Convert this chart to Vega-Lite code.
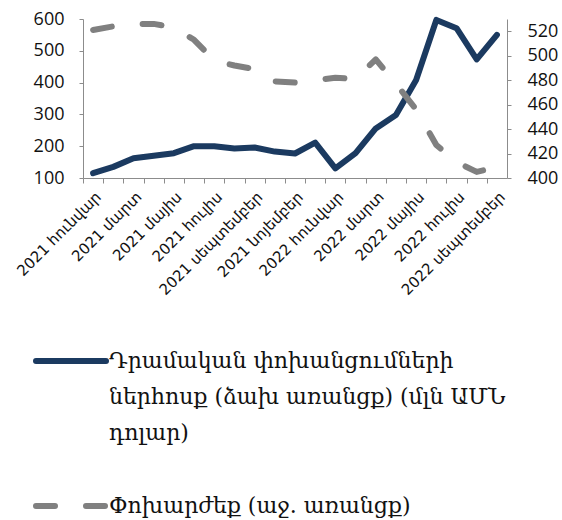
{
  "$schema": "https://vega.github.io/schema/vega-lite/v6.json",
  "width": 424,
  "height": 159,
  "autosize": {"type": "none"},
  "padding": {"left": 83, "top": 19, "right": 55, "bottom": 342},
  "background": "white",
  "config": {
    "view": {"stroke": null},
    "axis": {"labelFont": "Open Sans", "labelColor": "#111111", "domainColor": "#8c8c8c", "tickColor": "#8c8c8c", "grid": false, "title": null}
  },
  "data": {"values": [
      {"m": "2021 հունվար", "s": "A", "v": 115}, {"m": "2021 հունվար", "s": "B", "v": 521},
      {"m": "2021 փետրվար", "s": "A", "v": 135}, {"m": "2021 փետրվար", "s": "B", "v": 524},
      {"m": "2021 մարտ", "s": "A", "v": 162}, {"m": "2021 մարտ", "s": "B", "v": 526},
      {"m": "2021 ապրիլ", "s": "A", "v": 170}, {"m": "2021 ապրիլ", "s": "B", "v": 526},
      {"m": "2021 մայիս", "s": "A", "v": 178}, {"m": "2021 մայիս", "s": "B", "v": 523},
      {"m": "2021 հունիս", "s": "A", "v": 200}, {"m": "2021 հունիս", "s": "B", "v": 513},
      {"m": "2021  հուլիս", "s": "A", "v": 200}, {"m": "2021  հուլիս", "s": "B", "v": 496},
      {"m": "2021 օգոստոս", "s": "A", "v": 193}, {"m": "2021 օգոստոս", "s": "B", "v": 492},
      {"m": "2021  սեպտեմբեր", "s": "A", "v": 196}, {"m": "2021  սեպտեմբեր", "s": "B", "v": 489},
      {"m": "2021 հոկտեմբեր", "s": "A", "v": 183}, {"m": "2021 հոկտեմբեր", "s": "B", "v": 479},
      {"m": "2021  նոյեմբեր", "s": "A", "v": 177}, {"m": "2021  նոյեմբեր", "s": "B", "v": 478},
      {"m": "2021 դեկտեմբեր", "s": "A", "v": 211}, {"m": "2021 դեկտեմբեր", "s": "B", "v": 480},
      {"m": "2022  հունվար", "s": "A", "v": 130}, {"m": "2022  հունվար", "s": "B", "v": 482},
      {"m": "2022 փետրվար", "s": "A", "v": 178}, {"m": "2022 փետրվար", "s": "B", "v": 481},
      {"m": "2022  մարտ", "s": "A", "v": 256}, {"m": "2022  մարտ", "s": "B", "v": 497},
      {"m": "2022 ապրիլ", "s": "A", "v": 298}, {"m": "2022 ապրիլ", "s": "B", "v": 477},
      {"m": "2022  մայիս", "s": "A", "v": 408}, {"m": "2022  մայիս", "s": "B", "v": 456},
      {"m": "2022 հունիս", "s": "A", "v": 597}, {"m": "2022 հունիս", "s": "B", "v": 427},
      {"m": "2022  հուլիս", "s": "A", "v": 571}, {"m": "2022  հուլիս", "s": "B", "v": 413},
      {"m": "2022 օգոստոս", "s": "A", "v": 473}, {"m": "2022 օգոստոս", "s": "B", "v": 405},
      {"m": "2022  սեպտեմբեր", "s": "A", "v": 550}, {"m": "2022  սեպտեմբեր", "s": "B", "v": 409}
  ]},
  "layer": [
    {
      "transform": [{"filter": "datum.s == 'A'"}],
      "mark": {"type": "line", "strokeWidth": 6, "strokeCap": "round", "strokeJoin": "round"},
      "encoding": {
        "x": {
          "field": "m", "type": "nominal", "sort": null,
          "scale": {"type": "point", "padding": 0.5},
          "axis": {
            "labelAngle": -45, "labelFontSize": 15, "labelFont": "DejaVu Sans", "labelOverlap": false,
            "tickSize": 5, "labelPadding": 6, "tickOffset": -10.1, "labelOffset": 10.1,
            "labelExpr": "indexof(datum.value, 'փետրվար') >= 0 || indexof(datum.value, 'ապրիլ') >= 0 || indexof(datum.value, 'հունիս') >= 0 || indexof(datum.value, 'օգոստոս') >= 0 || indexof(datum.value, 'հոկտեմբեր') >= 0 || indexof(datum.value, 'դեկտեմբեր') >= 0 ? '' : datum.value"
          }
        },
        "y": {"field": "v", "type": "quantitative",
          "scale": {"domain": [100, 600], "nice": false, "zero": false},
          "axis": {"values": [100, 200, 300, 400, 500, 600], "labelFontSize": 18, "tickSize": 4, "labelPadding": 15}},
        "color": {
          "field": "s", "type": "nominal",
          "scale": {"domain": ["A", "B"], "range": ["#1b3a60", "#808080"]},
          "legend": {
            "title": null, "orient": "none", "legendX": -50, "legendY": 304, "direction": "vertical",
            "symbolType": "stroke", "symbolSize": 4900, "symbolStrokeWidth": 6,
            "labelFont": "DejaVu Serif", "labelFontSize": 22, "labelColor": "#111111", "labelOffset": 0, "labelLimit": 520,
            "rowPadding": 24,
            "labelExpr": "datum.value == 'A' ? ['Դրամական փոխանցումների', 'ներհոսք (ձախ  առանցք) (մլն ԱՄՆ', 'դոլար)'] : 'Փոխարժեք (աջ. առանցք)'",
            "encode": {
              "labels": {"update": {"lineHeight": {"value": 36}}},
              "symbols": {"update": {"strokeCap": {"value": "round"}, "strokeDash": {"signal": "datum.value == 'B' ? [19, 31] : [100, 0]"}}}
            }
          }
        }
      }
    },
    {
      "transform": [{"filter": "datum.s == 'B'"}],
      "mark": {"type": "line", "strokeWidth": 6, "strokeCap": "round", "strokeJoin": "round", "strokeDash": [19, 31]},
      "encoding": {
        "x": {"field": "m", "type": "nominal", "sort": null},
        "y": {"field": "v", "type": "quantitative",
          "scale": {"domain": [400, 530], "nice": false, "zero": false},
          "axis": {"orient": "right", "values": [400, 420, 440, 460, 480, 500, 520], "labelFontSize": 18, "tickSize": 4, "labelPadding": 16}},
        "color": {"field": "s", "type": "nominal"}
      }
    }
  ],
  "resolve": {"scale": {"y": "independent"}}
}
